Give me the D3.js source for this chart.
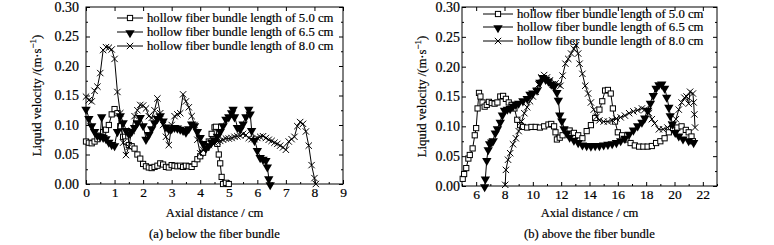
<!DOCTYPE html>
<html>
<head>
<meta charset="utf-8">
<script src="https://cdn.jsdelivr.net/npm/d3@7"></script>
<style>
  body { margin: 0; background: #fff; }
  svg { display: block; }
  text { font-family: "Liberation Serif", "Times New Roman", serif; fill: #000; stroke: #000; stroke-width: 0.2px; }
</style>
</head>
<body>
<script>
// ---- data ----
const seriesNames = ["hollow fiber bundle length of 5.0 cm", "hollow fiber bundle length of 6.5 cm", "hollow fiber bundle length of 8.0 cm"];

// (a) below the fiber bundle
const distA50 = [0,0.1,0.2,0.3,0.4,0.5,0.6,0.7,0.8,0.9,1.0,1.1,1.2,1.3,1.4,1.5,1.6,1.7,1.8,1.9,2.0,2.1,2.2,2.3,2.4,2.5,2.6,2.7,2.8,2.9,3.0,3.1,3.2,3.3,3.4,3.5,3.6,3.7,3.8,3.9,4.0,4.1,4.2,4.3,4.4,4.5,4.55,4.6,4.65,4.7,4.75,4.8,4.9,5.0];
const velA50 = [0.072,0.070,0.069,0.072,0.076,0.082,0.088,0.092,0.100,0.118,0.127,0.120,0.098,0.080,0.072,0.066,0.064,0.060,0.050,0.043,0.034,0.030,0.028,0.027,0.029,0.031,0.035,0.033,0.029,0.028,0.032,0.031,0.030,0.031,0.029,0.031,0.030,0.029,0.034,0.042,0.047,0.053,0.062,0.072,0.085,0.096,0.097,0.068,0.050,0.035,0.012,0.0,0.002,0.0];

const distA65 = [0,0.1,0.2,0.3,0.4,0.5,0.55,0.6,0.7,0.8,0.9,1.0,1.1,1.2,1.3,1.4,1.5,1.6,1.7,1.8,1.9,2.0,2.1,2.2,2.3,2.4,2.5,2.6,2.7,2.8,2.9,3.0,3.1,3.2,3.3,3.4,3.5,3.6,3.7,3.8,3.9,4.0,4.1,4.2,4.3,4.4,4.5,4.6,4.7,4.8,4.9,5.0,5.1,5.15,5.2,5.3,5.4,5.5,5.6,5.7,5.75,5.8,5.9,6.0,6.1,6.2,6.3,6.35,6.4,6.45];
const velA65 = [0.128,0.112,0.100,0.090,0.083,0.082,0.115,0.080,0.078,0.072,0.068,0.066,0.090,0.117,0.105,0.092,0.086,0.090,0.097,0.105,0.114,0.100,0.077,0.085,0.095,0.105,0.112,0.117,0.108,0.098,0.094,0.095,0.097,0.096,0.094,0.092,0.089,0.095,0.103,0.100,0.090,0.080,0.070,0.062,0.066,0.072,0.076,0.082,0.090,0.100,0.111,0.115,0.122,0.128,0.115,0.097,0.094,0.103,0.115,0.128,0.120,0.092,0.075,0.058,0.046,0.043,0.041,0.030,0.010,0.0];

const distA80 = [0,0.1,0.2,0.3,0.4,0.5,0.6,0.7,0.8,0.9,1.0,1.1,1.2,1.3,1.4,1.5,1.6,1.7,1.8,1.9,2.0,2.1,2.2,2.3,2.4,2.5,2.6,2.7,2.8,2.9,3.0,3.1,3.2,3.3,3.4,3.5,3.6,3.7,3.8,3.9,4.0,4.1,4.2,4.3,4.4,4.5,4.6,4.7,4.8,4.9,5.0,5.1,5.2,5.3,5.4,5.5,5.6,5.7,5.8,5.9,6.0,6.1,6.2,6.3,6.4,6.5,6.6,6.7,6.8,6.9,7.0,7.1,7.2,7.3,7.4,7.5,7.6,7.7,7.8,7.9,8.0,8.05];
const velA80 = [0.148,0.142,0.140,0.158,0.165,0.188,0.227,0.232,0.231,0.228,0.212,0.156,0.120,0.070,0.049,0.063,0.090,0.115,0.125,0.134,0.133,0.128,0.115,0.112,0.125,0.145,0.120,0.100,0.080,0.066,0.100,0.115,0.118,0.120,0.152,0.140,0.130,0.115,0.100,0.075,0.052,0.058,0.062,0.066,0.070,0.070,0.072,0.073,0.075,0.077,0.077,0.078,0.080,0.081,0.082,0.085,0.083,0.078,0.076,0.076,0.078,0.080,0.081,0.078,0.075,0.073,0.070,0.068,0.065,0.062,0.058,0.072,0.076,0.080,0.098,0.105,0.102,0.089,0.065,0.032,0.010,0.0];

// (b) above the fiber bundle
const distB50 = [5.05,5.15,5.3,5.45,5.55,5.75,5.9,6.0,6.1,6.2,6.3,6.45,6.6,6.75,6.9,7.1,7.3,7.5,7.7,7.9,8.1,8.3,8.5,8.7,8.9,9.1,9.3,9.6,9.9,10.2,10.5,10.8,11.1,11.3,11.5,11.6,11.7,11.9,12.1,12.4,12.6,12.9,13.2,13.5,13.8,14.1,14.4,14.7,14.9,15.1,15.3,15.5,15.65,15.8,16.0,16.3,16.6,16.9,17.2,17.5,17.8,18.1,18.4,18.7,19.0,19.3,19.6,19.9,20.2,20.5,20.8,21.0,21.2,21.3];
const velB50 = [0.012,0.020,0.030,0.046,0.052,0.063,0.085,0.097,0.130,0.156,0.150,0.140,0.133,0.136,0.141,0.139,0.138,0.140,0.150,0.151,0.146,0.140,0.136,0.130,0.111,0.102,0.099,0.098,0.099,0.099,0.098,0.100,0.103,0.104,0.100,0.090,0.078,0.081,0.085,0.092,0.093,0.089,0.085,0.080,0.092,0.102,0.114,0.128,0.142,0.160,0.161,0.155,0.130,0.108,0.090,0.085,0.078,0.072,0.068,0.066,0.066,0.066,0.067,0.072,0.075,0.080,0.090,0.097,0.098,0.100,0.094,0.090,0.083,0.075];

const distB65 = [6.6,6.65,6.75,6.85,6.95,7.1,7.2,7.35,7.5,7.7,7.85,8.0,8.2,8.4,8.6,8.8,9.0,9.3,9.6,9.8,10.0,10.3,10.5,10.7,10.9,11.1,11.3,11.5,11.7,11.8,11.9,12.05,12.2,12.4,12.6,12.9,13.2,13.5,13.8,14.1,14.4,14.7,15.0,15.3,15.6,15.9,16.2,16.5,16.8,17.1,17.4,17.7,17.9,18.1,18.3,18.5,18.7,18.9,19.1,19.3,19.45,19.6,19.7,19.85,20.05,20.3,20.6,21.0,21.35];
const velB65 = [0.0,0.013,0.044,0.062,0.072,0.075,0.077,0.090,0.097,0.108,0.120,0.128,0.130,0.131,0.135,0.138,0.140,0.144,0.148,0.155,0.157,0.162,0.175,0.183,0.180,0.177,0.172,0.168,0.158,0.145,0.120,0.110,0.097,0.090,0.083,0.078,0.074,0.070,0.069,0.068,0.069,0.069,0.070,0.071,0.072,0.074,0.077,0.081,0.088,0.095,0.102,0.108,0.115,0.128,0.140,0.153,0.165,0.171,0.172,0.165,0.150,0.133,0.119,0.105,0.091,0.085,0.080,0.077,0.074];

const distB80 = [8.05,8.1,8.25,8.4,8.6,8.8,9.0,9.2,9.4,9.6,9.8,10.0,10.2,10.4,10.6,10.8,11.0,11.2,11.4,11.6,11.8,11.95,12.1,12.3,12.5,12.7,12.9,13.05,13.2,13.3,13.5,13.7,13.9,14.1,14.3,14.5,14.7,15.0,15.3,15.6,15.9,16.2,16.5,16.8,17.1,17.4,17.7,17.9,18.2,18.4,18.6,18.9,19.2,19.5,19.8,20.1,20.3,20.5,20.7,20.85,21.0,21.1,21.3,21.35,21.4,21.45];
const velB80 = [0.002,0.027,0.044,0.055,0.070,0.080,0.092,0.108,0.122,0.132,0.142,0.150,0.158,0.170,0.182,0.186,0.182,0.177,0.170,0.172,0.170,0.168,0.185,0.205,0.213,0.222,0.230,0.236,0.222,0.205,0.188,0.168,0.155,0.140,0.128,0.116,0.110,0.108,0.108,0.110,0.113,0.115,0.118,0.122,0.125,0.127,0.130,0.128,0.122,0.112,0.105,0.095,0.095,0.098,0.103,0.112,0.128,0.140,0.148,0.150,0.138,0.158,0.155,0.140,0.120,0.098];

const yTicks = [0, 0.05, 0.10, 0.15, 0.20, 0.25, 0.30];
const xTicksA = [0,1,2,3,4,5,6,7,8,9];
const xTicksB = [6,8,10,12,14,16,18,20,22];

const panels = [
  { left: 86, right: 343, top: 7, bottom: 184, xDomain: [0, 9], xTicks: xTicksA, xMinorStep: 0.5,
    labelGap: 7, yTitleX: 37, legendX: 117, legendLen: 26, legendY: [18, 32, 46],
    caption: "(a) below the fiber bundle",
    series: [[distA50, velA50], [distA65, velA65], [distA80, velA80]] },
  { left: 462, right: 717, top: 7, bottom: 186, xDomain: [5, 23], xTicks: xTicksB, xMinorStep: 1,
    labelGap: 2, yTitleX: 422, legendX: 483, legendLen: 30, legendY: [14, 27, 41],
    caption: "(b) above the fiber bundle",
    series: [[distB50, velB50], [distB65, velB65], [distB80, velB80]] }
];

const svg = d3.select("body").append("svg")
  .attr("width", 774)
  .attr("height", 245);

// marker drawing for each series
function drawMarker(g, kind, cx, cy) {
  if (kind === 0) {
    g.append("rect")
      .attr("x", cx - 2.6).attr("y", cy - 2.6)
      .attr("width", 5.2).attr("height", 5.2)
      .attr("fill", "#fff").attr("stroke", "#000").attr("stroke-width", 1);
  } else if (kind === 1) {
    g.append("path")
      .attr("d", d3.symbol(d3.symbolTriangle, 38)())
      .attr("transform", `translate(${cx},${cy + 0.9}) rotate(180)`)
      .attr("fill", "#000");
  } else {
    g.append("path")
      .attr("d", d3.symbol(d3.symbolTimes, 28)())
      .attr("transform", `translate(${cx},${cy})`)
      .attr("fill", "none").attr("stroke", "#000").attr("stroke-width", 1);
  }
}

panels.forEach(p => {
  const x = d3.scaleLinear().domain(p.xDomain).range([p.left, p.right]);
  const y = d3.scaleLinear().domain([0, 0.3]).range([p.bottom, p.top]);
  const g = svg.append("g");

  const yMinor = d3.range(0.025, 0.3, 0.05);
  const xMinor = d3.range(p.xDomain[0], p.xDomain[1] + 0.001, p.xMinorStep)
    .filter(v => !p.xTicks.includes(v));

  // left axis
  g.append("g")
    .attr("transform", `translate(${p.left},0)`)
    .call(d3.axisLeft(y).tickValues(yTicks).tickFormat(d3.format(".2f"))
      .tickSize(-4).tickSizeOuter(0).tickPadding(p.labelGap))
    .call(a => a.selectAll("text").style("font-size", "14px").attr("font-family", null));
  g.append("g")
    .attr("transform", `translate(${p.left},0)`)
    .call(d3.axisLeft(y).tickValues(yMinor).tickFormat("").tickSize(-2).tickSizeOuter(0));

  // right axis (mirror)
  g.append("g")
    .attr("transform", `translate(${p.right},0)`)
    .call(d3.axisRight(y).tickValues(yTicks).tickFormat("").tickSize(-4).tickSizeOuter(0));
  g.append("g")
    .attr("transform", `translate(${p.right},0)`)
    .call(d3.axisRight(y).tickValues(yMinor).tickFormat("").tickSize(-2).tickSizeOuter(0));

  // bottom axis
  g.append("g")
    .attr("transform", `translate(0,${p.bottom})`)
    .call(d3.axisBottom(x).tickValues(p.xTicks).tickFormat(d3.format("d"))
      .tickSize(-4).tickSizeOuter(0).tickPadding(3))
    .call(a => a.selectAll("text").style("font-size", "13.5px").attr("font-family", null));
  g.append("g")
    .attr("transform", `translate(0,${p.bottom})`)
    .call(d3.axisBottom(x).tickValues(xMinor).tickFormat("").tickSize(-2).tickSizeOuter(0));

  // top axis (mirror)
  g.append("g")
    .attr("transform", `translate(0,${p.top})`)
    .call(d3.axisTop(x).tickValues(p.xTicks).tickFormat("").tickSize(-4).tickSizeOuter(0));

  g.selectAll(".domain").remove();
  g.selectAll(".tick line").attr("stroke", "#000");

  g.append("rect")
    .attr("x", p.left).attr("y", p.top)
    .attr("width", p.right - p.left).attr("height", p.bottom - p.top)
    .attr("fill", "none").attr("stroke", "#000").attr("stroke-width", 1);

  // series
  const line = d3.line().x(d => x(d[0])).y(d => y(d[1]));
  p.series.forEach((s, i) => {
    const pts = s[0].map((d, j) => [d, s[1][j]]);
    g.append("path")
      .datum(pts)
      .attr("d", line)
      .attr("fill", "none")
      .attr("stroke", "#000")
      .attr("stroke-width", 1);
    const mg = g.append("g");
    pts.forEach(d => drawMarker(mg, i, x(d[0]), y(d[1])));
  });

  // legend
  seriesNames.forEach((name, i) => {
    const ly = p.legendY[i];
    g.append("line")
      .attr("x1", p.legendX).attr("x2", p.legendX + p.legendLen)
      .attr("y1", ly).attr("y2", ly)
      .attr("stroke", "#000").attr("stroke-width", 1);
    drawMarker(g, i, p.legendX + p.legendLen / 2, ly);
    g.append("text")
      .attr("x", p.legendX + p.legendLen + 4)
      .attr("y", ly)
      .attr("dy", "0.35em")
      .style("font-size", "12.7px")
      .text(name);
  });

  // y title
  const cy = (p.top + p.bottom) / 2;
  const yt = g.append("text")
    .attr("transform", `translate(${p.yTitleX},${cy}) rotate(-90)`)
    .attr("text-anchor", "middle")
    .attr("dy", "0.35em")
    .style("font-size", "12.7px");
  yt.append("tspan").text("Liquid velocity /(m\u00b7s");
  yt.append("tspan").attr("baseline-shift", "super").style("font-size", "9px").text("\u22121");
  yt.append("tspan").text(")");

  // x title and caption
  const mid = (p.left + p.right) / 2;
  g.append("text")
    .attr("x", mid).attr("y", 217)
    .attr("text-anchor", "middle")
    .style("font-size", "12.6px")
    .text("Axial distance / cm");
  g.append("text")
    .attr("x", mid).attr("y", 238)
    .attr("text-anchor", "middle")
    .style("font-size", "12.6px")
    .text(p.caption);
});
</script>
</body>
</html>
